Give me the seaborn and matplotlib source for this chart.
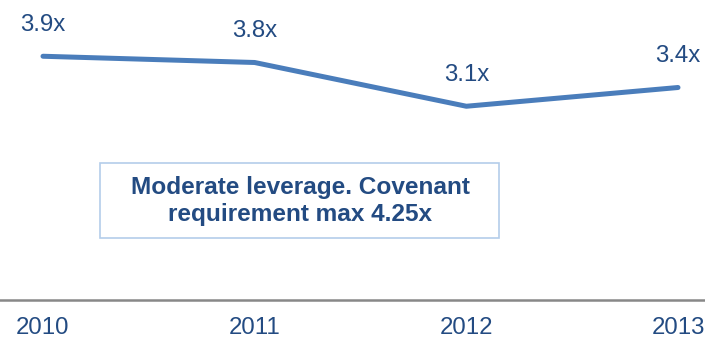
import matplotlib
matplotlib.use("Agg")
import matplotlib.pyplot as plt
import seaborn as sns
import pandas as pd
from matplotlib.patches import Rectangle

years = ["2010", "2011", "2012", "2013"]
leverage = [3.9, 3.8, 3.1, 3.4]
labels = ["3.9x", "3.8x", "3.1x", "3.4x"]
note = "Moderate leverage. Covenant\nrequirement max 4.25x"

sns.set_theme(style="white")
plt.rcParams['font.family'] = ['Liberation Sans', 'DejaVu Sans']

LINE = "#4a7dbb"
TEXT = "#234b82"

df = pd.DataFrame({"x": range(len(years)), "v": leverage})

fig = plt.figure(figsize=(7.05, 3.39), dpi=100)
ax = fig.add_axes([0, 39/339, 1, 300/339])
sns.lineplot(data=df, x="x", y="v", ax=ax, color=LINE, linewidth=3.6,
             solid_capstyle="round", solid_joinstyle="round")

for i, (v, lab) in enumerate(zip(leverage, labels)):
    ax.annotate(lab, (i, v), xytext=(0, 22.5), textcoords="offset points",
                ha="center", va="center", fontsize=17.3, color=TEXT)

ax.set_xlim(-43/211.7, 3 + 27/211.7)
ax.set_ylim(0, 4.8)
ax.set_xticks(range(len(years)))
ax.set_xticklabels(years, fontsize=17.3, color=TEXT)
ax.set_yticks([])
ax.set_xlabel("")
ax.set_ylabel("")
ax.tick_params(axis="x", length=0, pad=12)
for s in ["top", "right", "left"]:
    ax.spines[s].set_visible(False)
ax.spines["bottom"].set_color("#888888")
ax.spines["bottom"].set_linewidth(1.8)

fig.patches.append(Rectangle((100/705, 1 - 238/339), 399/705, 75/339,
                             transform=fig.transFigure, fill=False,
                             edgecolor="#b4cdea", linewidth=1.2))
fig.text(300/705, 1 - 201/339, note, ha="center", va="center",
         fontsize=17.6, fontweight="bold", color=TEXT, linespacing=1.22)

fig.savefig("out.png", dpi=100)
